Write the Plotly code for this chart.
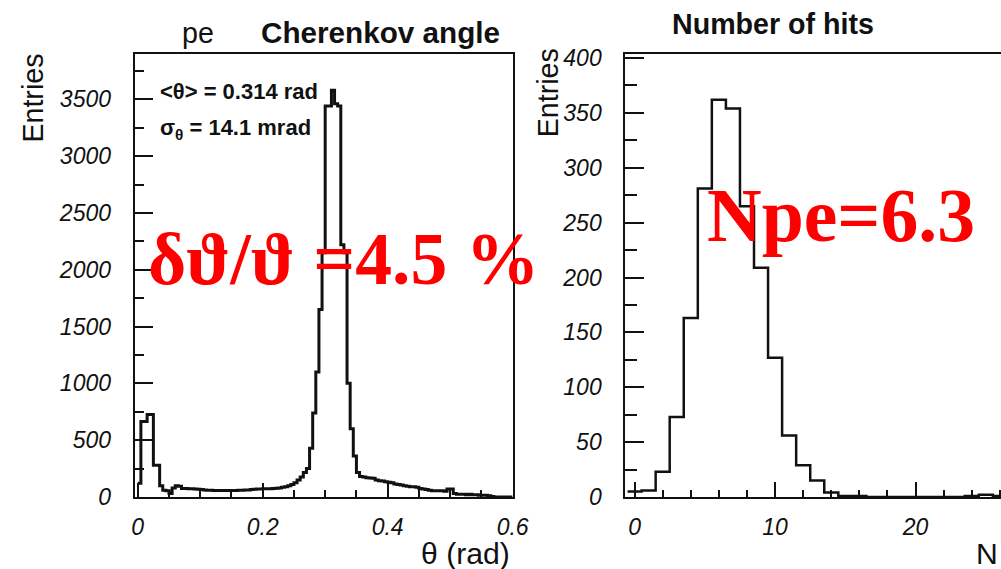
import numpy as np
import plotly.graph_objects as go

# The page is photographed slightly scaled; positions below are given in
# photo pixels and converted into page (CSS) pixels.
SX, SY, OY = 0.984, 0.971, 5.5
W, H = 1017, 581          # figure size in CSS px (body margin removed)

# ---------------- data ----------------
# Cherenkov angle histogram: bin width 0.005 rad, from 0 to 0.6
theta_bin_width = 0.005
theta_counts = [
    120, 665, 665, 725, 725, 280, 280, 100, 60, 55,          # 0.000-0.045
    30, 80, 99, 95, 75, 75, 72, 72, 70, 68,                 # 0.050-0.095
    65, 62, 60, 60, 58, 58, 58, 57, 57, 58,                 # 0.100-0.145
    58, 58, 60, 60, 62, 62, 65, 68, 70, 70,                 # 0.150-0.195
    72, 72, 73, 75, 77, 80, 85, 90, 100, 110,               # 0.200-0.245
    125, 150, 175, 215, 250, 430, 740, 1100, 1650, 2150,    # 0.250-0.295
    3440, 3440, 3580, 3460, 3440, 2220, 2150, 1000, 600, 360,  # 0.300-0.345
    215, 180, 175, 170, 168, 165, 150, 143, 140, 135,       # 0.350-0.395
    130, 125, 115, 110, 105, 100, 95, 90, 90, 85,           # 0.400-0.445
    75, 70, 65, 60, 55, 55, 55, 55, 50, 70,                 # 0.450-0.495
    70, 30, 25, 25, 25, 20, 25, 20, 20, 15,                 # 0.500-0.545
    15, 15, 10, 5, 0, 0, 0, 0, 0, 0,                        # 0.550-0.595
]
theta_edges = np.arange(len(theta_counts) + 1) * theta_bin_width

# Number of hits histogram: integer bins centred on 0..26
hits_values = list(range(0, 27))
hits_counts = [5, 6, 23, 73, 163, 281, 362, 354, 265, 209, 127, 56, 29, 15,
               4, 1, 1, 0, 0, 0, 0, 0, 0, 0, 1, 2, 1]
hits_edges = np.array(hits_values + [hits_values[-1] + 1]) - 0.5

left_yticks = [0, 500, 1000, 1500, 2000, 2500, 3000, 3500]
left_xticks = [0, 0.2, 0.4, 0.6]
left_xtick_text = ["0", "0.2", "0.4", "0.6"]
right_yticks = [0, 50, 100, 150, 200, 250, 300, 350, 400]
right_xticks = [0, 10, 20]

# ---------------- figure ----------------
def px_x(p):
    return (p / SX) / W

def px_y(p):
    return 1 - ((p - OY) / SY) / H

def fs(size):
    return size / ((SX + SY) / 2)

fig = go.Figure()

fig.add_trace(go.Scatter(
    x=theta_edges, y=list(theta_counts) + [theta_counts[-1]],
    mode="lines", line=dict(shape="hv", color="#111", width=3),
    xaxis="x", yaxis="y", showlegend=False, hoverinfo="skip"))

fig.add_trace(go.Scatter(
    x=hits_edges, y=list(hits_counts) + [hits_counts[-1]],
    mode="lines", line=dict(shape="hv", color="#111", width=2.5),
    xaxis="x2", yaxis="y2", showlegend=False, hoverinfo="skip"))

tickfont = dict(family="Liberation Sans, Arial, sans-serif", size=fs(22.5),
                color="#111", style="italic")
ydom = [px_y(498), px_y(51)]

common = dict(showgrid=False, zeroline=False, showline=True, linecolor="#111",
              linewidth=2, ticks="inside", tickcolor="#111", tickwidth=2,
              tickfont=tickfont)

# right panel is cut by the page edge (14.1 photo px per hit)
right_x_left = -0.66
right_x_right = right_x_left + (1001 - 624) / 14.1

fig.update_layout(
    width=W, height=H,
    margin=dict(l=0, r=0, t=0, b=0),
    paper_bgcolor="white", plot_bgcolor="white",
    xaxis=dict(domain=[px_x(132), px_x(511)], range=[-0.005, 0.6],
               tickvals=left_xticks, ticktext=left_xtick_text, ticklen=14,
               minor=dict(dtick=0.05, ticklen=7, ticks="inside", tickcolor="#111",
                          tickwidth=2, showgrid=False),
               mirror=True, anchor="y", ticklabelstandoff=8, **common),
    yaxis=dict(domain=ydom, range=[0, 3898], tickvals=left_yticks, ticklen=18,
               minor=dict(dtick=250, ticklen=9, ticks="inside", tickcolor="#111",
                          tickwidth=2, showgrid=False),
               mirror=True, anchor="x", ticklabelstandoff=17, **common),
    xaxis2=dict(domain=[px_x(624), 1.0], range=[right_x_left, right_x_right],
                tickvals=right_xticks, ticklen=15,
                minor=dict(dtick=2, ticklen=7, ticks="inside", tickcolor="#111",
                           tickwidth=2, showgrid=False),
                mirror=True, anchor="y2", ticklabelstandoff=8, **common),
    yaxis2=dict(domain=ydom, range=[0, 403.6], tickvals=right_yticks, ticklen=19,
                minor=dict(dtick=25, ticklen=12, ticks="inside", tickcolor="#111",
                           tickwidth=2, showgrid=False),
                mirror=False, anchor="x2", ticklabelstandoff=17, **common),
)

sans = "Liberation Sans, Arial, sans-serif"
serif = "Liberation Serif, Times New Roman, serif"

def ann(text, x, y, size, xanchor="center", yanchor="middle", angle=0,
        family=sans, color="#111", weight="normal"):
    fig.add_annotation(text=text, x=px_x(x), y=px_y(y), xref="paper", yref="paper",
                       xanchor=xanchor, yanchor=yanchor, showarrow=False,
                       textangle=angle,
                       font=dict(family=family, size=fs(size), color=color,
                                 weight=weight))

ann("pe", 196, 30, 28)
ann("Cherenkov angle", 379, 29, 29, weight="bold")
ann("Number of hits", 772, 21, 28, weight="bold")
ann("Entries", 30, 95, 28, angle=-90)
ann("Entries", 546, 90, 28, angle=-90)
ann("θ (rad)", 510, 555, 29.5, xanchor="right")
ann("N", 1000, 555, 29.5, xanchor="right")
ann("&lt;θ&gt; = 0.314 rad", 155, 89, 21.5, xanchor="left", weight="bold")
ann("σ<sub>θ</sub> = 14.1 mrad", 155, 127, 21.5, xanchor="left", weight="bold")
ann("δϑ/ϑ =4.5 %", 143, 258, 72, xanchor="left", family=serif,
    color="#ff0000", weight="bold")
ann("Npe=6.3", 704, 214, 74, xanchor="left", family=serif,
    color="#ff0000", weight="bold")

fig.write_html(
    "out.html",
    config={"displayModeBar": False},
    post_script="document.body.style.margin='0';",
)
